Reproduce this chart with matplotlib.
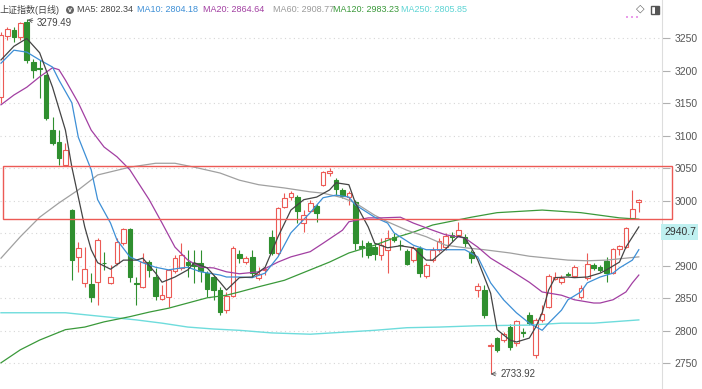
import numpy as np
import matplotlib
matplotlib.use("Agg")
import matplotlib.pyplot as plt
from matplotlib.patches import Rectangle, Ellipse

plt.rcParams['font.family'] = ['Liberation Sans', 'Noto Sans CJK SC', 'DejaVu Sans']

# 日线 K 线 (开, 收, 高, 低)
opens = [3160, 3254, 3263, 3252, 3276, 3214, 3204, 3194, 3109, 3091,
         3055, 2986, 2914, 2874, 2872, 2875, 2905, 2874, 2905, 2935,
         2957, 2874, 2868, 2906, 2883, 2849, 2852, 2892, 2897, 2906,
         2905, 2905, 2889, 2883, 2863, 2832, 2854, 2918, 2906, 2914,
         2882, 2894, 2945, 2920, 2991, 3006, 3006, 2966, 2985, 2992,
         3025, 3043, 3032, 3017, 3006, 2999, 2931, 2935, 2929, 2917,
         2925, 2945, 2933, 2923, 2909, 2928, 2885, 2909, 2925, 2929,
         2948, 2948, 2945, 2922, 2863, 2863, 2777, 2789, 2786, 2806,
         2782, 2798, 2825, 2763, 2817, 2837, 2880, 2875, 2888, 2885,
         2852, 2881, 2902, 2898, 2908, 2889, 2926, 2929, 2974, 2998]
closes = [3255, 3265, 3252, 3274, 3217, 3202, 3203, 3128, 3089, 3066,
          3078, 2909, 2928, 2895, 2852, 2940, 2904, 2883, 2937, 2957,
          2883, 2873, 2906, 2894, 2854, 2855, 2894, 2912, 2917, 2902,
          2900, 2892, 2865, 2863, 2829, 2854, 2928, 2912, 2912, 2889,
          2888, 2895, 2920, 2989, 3005, 3012, 2985, 2978, 2997, 2982,
          3045, 3046, 3018, 3008, 3012, 2935, 2928, 2917, 2918, 2932,
          2943, 2940, 2932, 2903, 2928, 2889, 2902, 2925, 2938, 2946,
          2945, 2955, 2935, 2912, 2869, 2825, 2779, 2771, 2795, 2775,
          2815, 2797, 2812, 2817, 2826, 2885, 2883, 2881, 2886, 2898,
          2866, 2903, 2897, 2894, 2889, 2926, 2931, 2958, 2988, 3002]
highs = [3260, 3268, 3268, 3275, 3279.49, 3218, 3217, 3196, 3129, 3109,
         3089, 2988, 2937, 2929, 2889, 2943, 2922, 2902, 2943, 2959,
         2958, 2883, 2920, 2909, 2897, 2871, 2895, 2917, 2935, 2925,
         2925, 2925, 2893, 2886, 2867, 2860, 2931, 2925, 2915, 2925,
         2898, 2899, 2955, 2991, 3012, 3015, 3009, 2986, 3002, 2995,
         3046, 3051, 3035, 3020, 3016, 3002, 2940, 2938, 2935, 2943,
         2955, 2951, 2940, 2926, 2930, 2931, 2904, 2929, 2943, 2951,
         2952, 2968, 2949, 2925, 2874, 2871, 2781, 2791, 2798, 2811,
         2817, 2805, 2829, 2820, 2840, 2887, 2891, 2886, 2891, 2901,
         2871, 2920, 2905, 2901, 2914, 2928, 2932, 2960, 3017, 3003]
lows = [3150, 3248, 3245, 3248, 3212, 3189, 3158, 3125, 3086, 3055,
        3054, 2878, 2891, 2868, 2845, 2840, 2894, 2873, 2902, 2933,
        2875, 2840, 2866, 2883, 2848, 2848, 2837, 2889, 2894, 2883,
        2874, 2875, 2852, 2848, 2825, 2828, 2852, 2905, 2903, 2883,
        2879, 2886, 2917, 2917, 2989, 3002, 2966, 2952, 2983, 2968,
        3023, 3038, 3009, 3005, 2994, 2925, 2914, 2912, 2909, 2909,
        2889, 2937, 2925, 2901, 2906, 2883, 2882, 2906, 2922, 2925,
        2938, 2946, 2929, 2905, 2852, 2820, 2733.92, 2768, 2783, 2771,
        2777, 2791, 2809, 2758, 2814, 2835, 2878, 2872, 2884, 2883,
        2849, 2879, 2894, 2891, 2875, 2888, 2917, 2928, 2972, 2983]

# 均线 (K线序号, 数值)
ma5_idx = [0, 2, 4, 6, 8, 10, 11, 12, 13, 14, 15, 16, 17, 19, 21, 22, 24, 25, 27, 29,
           30, 32, 34, 35, 37, 39, 41, 43, 45, 47, 49, 51, 52, 54, 55, 57, 58, 60, 62, 64,
           66, 67, 69, 71, 72, 73, 74, 76, 77, 79, 80, 82, 83, 84, 85, 86, 88, 89, 91, 93,
           94, 96, 97, 99]
ma5_val = [3217, 3238, 3250, 3228, 3175, 3109, 3052, 3006, 2960, 2925, 2905, 2900, 2895, 2909, 2909, 2912, 2889, 2875, 2883, 2894,
           2905, 2897, 2875, 2863, 2882, 2883, 2898, 2945, 2986, 3002, 3006, 3017, 3028, 3025, 2997, 2960, 2935, 2928, 2931, 2928,
           2909, 2909, 2926, 2946, 2943, 2928, 2909, 2858, 2802, 2786, 2783, 2789, 2806, 2828, 2863, 2882, 2883, 2882, 2883, 2889,
           2894, 2906, 2929, 2960]
ma10_idx = [0, 2, 4, 6, 8, 9, 11, 12, 14, 15, 17, 18, 20, 22, 24, 26, 28, 29, 31, 34,
            35, 37, 39, 41, 43, 45, 48, 50, 52, 54, 55, 58, 60, 61, 64, 66, 68, 70, 72, 74,
            76, 78, 80, 82, 84, 85, 87, 88, 90, 91, 93, 95, 96, 98, 99]
ma10_val = [3212, 3232, 3229, 3217, 3206, 3186, 3151, 3098, 3048, 3002, 2966, 2940, 2914, 2905, 2898, 2894, 2897, 2898, 2891, 2886,
            2883, 2883, 2882, 2889, 2914, 2951, 2982, 3005, 3009, 3006, 2994, 2975, 2966, 2951, 2932, 2925, 2925, 2925, 2925, 2914,
            2874, 2848, 2828, 2812, 2801, 2812, 2832, 2848, 2860, 2874, 2883, 2889, 2897, 2909, 2925]
ma20_idx = [0, 2, 4, 6, 8, 9, 10, 12, 14, 16, 18, 20, 23, 25, 27, 29, 31, 33, 35, 37,
            40, 43, 45, 48, 50, 53, 54, 57, 59, 62, 64, 67, 69, 72, 74, 76, 79, 82, 84, 87,
            89, 92, 93, 95, 97, 98, 99]
ma20_val = [3148, 3163, 3175, 3191, 3205, 3202, 3186, 3151, 3109, 3083, 3068, 3048, 3002, 2966, 2929, 2909, 2898, 2897, 2891, 2888,
            2891, 2906, 2914, 2922, 2935, 2955, 2968, 2974, 2974, 2975, 2966, 2955, 2948, 2943, 2929, 2912, 2894, 2875, 2860, 2855,
            2848, 2843, 2843, 2848, 2860, 2874, 2886]
ma60_idx = [0, 3, 6, 9, 12, 15, 20, 24, 27, 30, 34, 37, 40, 44, 48, 50, 53, 55, 58, 60,
            63, 66, 69, 72, 75, 79, 82, 85, 88, 91, 94, 97, 99]
ma60_val = [2912, 2945, 2975, 2997, 3017, 3040, 3052, 3058, 3058, 3052, 3043, 3032, 3025, 3020, 3014, 3012, 3005, 2997, 2978, 2968,
            2955, 2945, 2932, 2928, 2925, 2920, 2915, 2912, 2909, 2908, 2909, 2912, 2914]
ma120_idx = [0, 3, 6, 10, 13, 16, 20, 23, 26, 29, 32, 35, 37, 40, 44, 48, 51, 54, 58, 61,
             64, 67, 70, 73, 77, 84, 90, 96, 99]
ma120_val = [2751, 2771, 2786, 2802, 2806, 2814, 2822, 2829, 2835, 2843, 2851, 2855, 2860, 2868, 2878, 2894, 2906, 2920, 2932, 2943,
             2952, 2963, 2969, 2975, 2982, 2986, 2982, 2974, 2972]
ma250_idx = [0, 6, 10, 13, 16, 21, 25, 29, 33, 37, 42, 48, 53, 58, 63, 68, 74, 82, 87, 92, 99]
ma250_val = [2828, 2828, 2828, 2825, 2822, 2817, 2812, 2806, 2803, 2801, 2797, 2795, 2798, 2801, 2805, 2806, 2808, 2809, 2812, 2812, 2817]

legend_items = [("MA5: 2802.34", "#444444", 77), ("MA10: 2804.18", "#3d8fd6", 137),
                ("MA20: 2864.64", "#a23fa2", 203), ("MA60: 2908.77", "#9a9a9a", 273),
                ("MA120: 2983.23", "#3a993a", 333), ("MA250: 2805.85", "#5ed4d4", 401)]

zone_low, zone_high = 2972, 3054
grid_levels = [2750, 2800, 2850, 2900, 2950, 3000, 3050, 3100, 3150, 3200, 3250]
y_ticks = [2750, 2800, 2850, 2900, 3000, 3050, 3100, 3150, 3200, 3250]
last_price = 2940.7

RED = "#ec5a55"
GREEN = "#2f8f2f"

W, H = 702, 389
fig = plt.figure(figsize=(W / 100, H / 100), dpi=100)
ax = fig.add_axes([0, 0, 662 / W, 1])

o = np.array(opens)
c = np.array(closes)
hi = np.array(highs)
lo = np.array(lows)
x = np.arange(len(o))
up = c >= o

# 网格
for v in grid_levels:
    ax.axhline(v, color="#d6d6d6", lw=0.8, ls=(0, (1, 3)), zorder=0)

# 影线 + 实体
ax.vlines(x, lo, hi, colors=np.where(up, RED, GREEN), lw=0.8, zorder=2)
body_h = np.maximum(np.abs(c - o), 0.9)
ax.bar(x, body_h, bottom=np.minimum(o, c), width=0.72,
       color=np.where(up, "white", GREEN), edgecolor=np.where(up, RED, GREEN),
       linewidth=0.8, zorder=3)

# 均线
ax.plot(ma250_idx, ma250_val, color="#6edcdc", lw=1.0, zorder=4)
ax.plot(ma120_idx, ma120_val, color="#3a993a", lw=0.9, zorder=4)
ax.plot(ma60_idx, ma60_val, color="#a0a0a0", lw=0.9, zorder=4)
ax.plot(ma20_idx, ma20_val, color="#a23fa2", lw=0.9, zorder=4)
ax.plot(ma10_idx, ma10_val, color="#3d8fd6", lw=0.9, zorder=4)
ax.plot(ma5_idx, ma5_val, color="#444444", lw=0.9, zorder=4)

# 压力区
ax.add_patch(Rectangle((0.3, zone_low), 103.9, zone_high - zone_low, fill=False,
                       edgecolor=RED, lw=1.0, clip_on=False, zorder=5))

# 最高 / 最低
imax = int(np.argmax(hi))
imin = int(np.argmin(lo))
ax.annotate(f"{hi[imax]:.2f}", xy=(imax + 0.1, hi[imax] - 1), xytext=(imax + 1.6, hi[imax] - 6),
            fontsize=7, color="#444", ha="left", va="center",
            arrowprops=dict(arrowstyle="->", color="#555", lw=0.6, shrinkA=1, shrinkB=0))
ax.annotate(f"{lo[imin]:.2f}", xy=(imin, lo[imin]), xytext=(imin + 1.5, lo[imin]),
            fontsize=7, color="#444", ha="left", va="center",
            arrowprops=dict(arrowstyle="->", color="#555", lw=0.6, shrinkA=1, shrinkB=0))

ax.set_xlim(-0.155, 102.6)
ax.set_ylim(2710.7, 3309.2)
ax.set_xticks([])
ax.yaxis.tick_right()
ax.set_yticks(y_ticks)
ax.tick_params(axis="y", length=6, width=0.8, color="#b0b0b0", pad=3,
               labelsize=7.5, labelcolor="#555555")
for s in ["top", "left", "bottom"]:
    ax.spines[s].set_visible(False)
ax.spines["right"].set_color("#dddddd")
ax.spines["right"].set_linewidth(0.8)

# 当前价
fig.text(664 / W, 1 - 232 / H, f"{last_price}", fontsize=7.5, color="#333",
         ha="left", va="center",
         bbox=dict(boxstyle="square,pad=0.25", fc="#bff0f0", ec="none"))

# 顶部标题 + 均线值
fig.text(0, 1 - 10 / H, "上证指数(日线)", fontsize=6.5, color="#444", ha="left", va="center")
fig.add_artist(Ellipse((70 / W, 1 - 10 / H), 8 / W, 8 / H, transform=fig.transFigure,
                       fc="#666666", ec="none"))
fig.text(70 / W, 1 - 10.5 / H, "v", fontsize=5, color="white", ha="center", va="center",
         fontweight="bold")
for label, col, px in legend_items:
    fig.text(px / W, 1 - 10 / H, label, fontsize=6.5, color=col, ha="left", va="center")

# 右上角图标
fig.text(640 / W, 1 - 9 / H, "◇", fontsize=8, color="#666", ha="center", va="center",
         family=["DejaVu Sans"])
fig.add_artist(Rectangle((651 / W, 1 - 14 / H), 8 / W, 8 / H, transform=fig.transFigure,
                         fill=False, ec="#555", lw=1.0))
fig.add_artist(Rectangle((655 / W, 1 - 14 / H), 4 / W, 8 / H, transform=fig.transFigure,
                         fc="#555", ec="none"))
for px in [627, 632, 637]:
    fig.add_artist(Ellipse((px / W, 1 - 17 / H), 1.6 / W, 1.6 / H, transform=fig.transFigure,
                           fc="#d63fd6", ec="none"))

fig.savefig("out.png", dpi=100)
